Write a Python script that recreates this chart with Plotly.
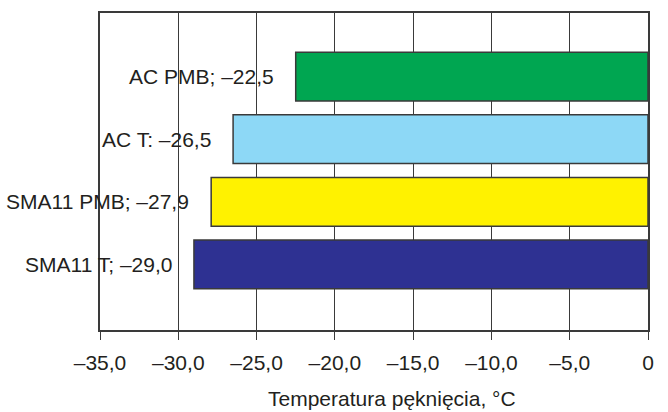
import plotly.graph_objects as go

# Crack temperature by mixture (bottom to top)
mixtures = ["SMA11 T", "SMA11 PMB", "AC T", "AC PMB"]
temps = [-29.0, -27.9, -26.5, -22.5]
separators = ["; ", "; ", ": ", "; "]
bar_colors = ["#2E3192", "#FFF200", "#8DD8F6", "#00A651"]

tick_vals = [-35, -30, -25, -20, -15, -10, -5, 0]
tick_text = ["\u201335,0", "\u201330,0", "\u201325,0", "\u201320,0",
             "\u201315,0", "\u201310,0", "\u20135,0", "0"]

font_family = "Liberation Sans, Arial, sans-serif"
text_color = "#231F20"
line_color = "#3A3A3A"


def fmt(v):
    s = f"{abs(v):.1f}".replace(".", ",")
    return ("\u2013" + s) if v < 0 else s


idx = list(range(len(mixtures)))

fig = go.Figure(
    go.Bar(
        x=temps,
        y=idx,
        orientation="h",
        width=0.78,
        marker=dict(color=bar_colors, line=dict(color=line_color, width=1.5)),
        hoverinfo="skip",
    )
)

annotations = []
for i, (name, t, sep) in enumerate(zip(mixtures, temps, separators)):
    annotations.append(dict(
        x=t, y=i, xref="x", yref="y",
        text=f"{name}{sep}{fmt(t)}",
        showarrow=False, xanchor="right", yanchor="middle", xshift=-20,
        font=dict(size=21, color=text_color, family=font_family),
    ))

annotations.append(dict(
    x=0.533, y=-0.216, xref="paper", yref="paper",
    text="Temperatura p\u0119kni\u0119cia, \u00b0C",
    showarrow=False, xanchor="center", yanchor="middle",
    font=dict(size=21, color=text_color, family=font_family),
))

fig.update_layout(
    width=668, height=412,
    margin=dict(l=100, r=20, t=11, b=82),
    paper_bgcolor="white", plot_bgcolor="white",
    showlegend=False,
    annotations=annotations,
    xaxis=dict(
        range=[-35, 0],
        tickvals=tick_vals, ticktext=tick_text,
        ticks="outside", ticklen=8, tickwidth=1.3, tickcolor=line_color,
        ticklabelstandoff=5,
        tickfont=dict(size=21, color=text_color, family=font_family),
        showgrid=True, gridcolor=line_color, gridwidth=1.3,
        zeroline=False,
        showline=True, linecolor=line_color, linewidth=1.5, mirror=True,
    ),
    yaxis=dict(
        range=[-1.048, 4.016],
        showticklabels=False, ticks="",
        showgrid=False, zeroline=False,
        showline=True, linecolor=line_color, linewidth=1.5, mirror=True,
    ),
)

fig.write_html("out.html")
